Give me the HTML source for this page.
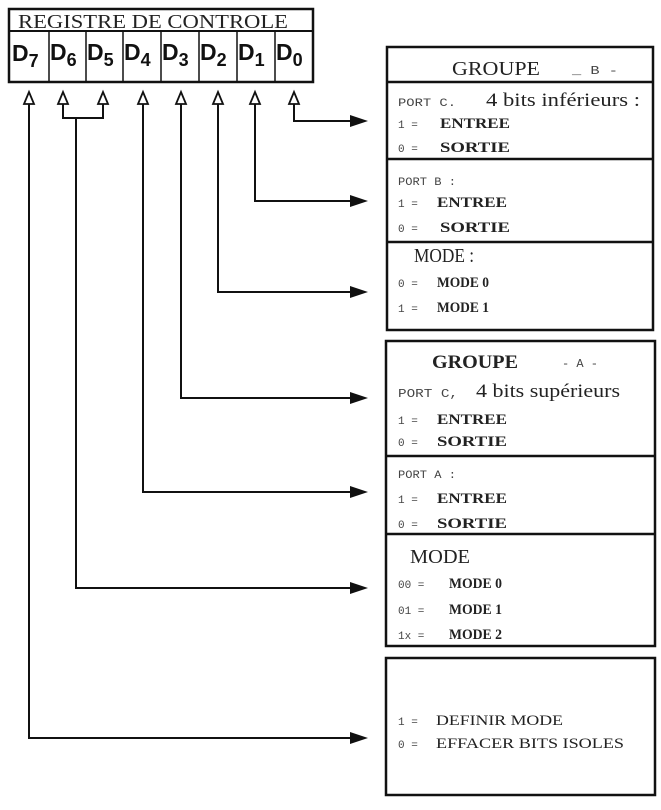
<!DOCTYPE html>
<html><head><meta charset="utf-8"><style>
html,body{margin:0;padding:0;background:#fff;}
svg{display:block;}
.s{font-family:"Liberation Serif",serif;font-weight:bold;fill:#222;}
.m{font-family:"Liberation Mono",monospace;fill:#444;}
</style></head><body>
<svg width="661" height="810" viewBox="0 0 661 810" xmlns="http://www.w3.org/2000/svg">
<rect width="661" height="810" fill="#fff"/>
<rect x="9" y="9" width="304" height="73" fill="none" stroke="#111" stroke-width="2.5"/>
<line x1="9" y1="31" x2="313" y2="31" stroke="#111" stroke-width="2"/>
<text x="18" y="28" font-family="Liberation Serif,serif" font-size="20" fill="#222" textLength="270" lengthAdjust="spacingAndGlyphs">REGISTRE DE CONTROLE</text>
<g stroke="#111" stroke-width="1.5">
<line x1="49" y1="31" x2="49" y2="82"/><line x1="86" y1="31" x2="86" y2="82"/><line x1="123" y1="31" x2="123" y2="82"/>
<line x1="161" y1="31" x2="161" y2="82"/><line x1="199" y1="31" x2="199" y2="82"/><line x1="237" y1="31" x2="237" y2="82"/><line x1="275" y1="31" x2="275" y2="82"/>
</g>
<g font-family="Liberation Sans,sans-serif" font-weight="bold" fill="#111">
<text x="12" y="61" font-size="23">D<tspan font-size="18" dy="6">7</tspan></text>
<text x="50" y="60" font-size="23">D<tspan font-size="18" dy="6">6</tspan></text>
<text x="87" y="60" font-size="23">D<tspan font-size="18" dy="6">5</tspan></text>
<text x="124" y="60" font-size="23">D<tspan font-size="18" dy="6">4</tspan></text>
<text x="162" y="60" font-size="23">D<tspan font-size="18" dy="6">3</tspan></text>
<text x="200" y="60" font-size="23">D<tspan font-size="18" dy="6">2</tspan></text>
<text x="238" y="60" font-size="23">D<tspan font-size="18" dy="6">1</tspan></text>
<text x="276" y="60" font-size="23">D<tspan font-size="18" dy="6">0</tspan></text>
</g>
<g fill="#fff" stroke="#111" stroke-width="1.8">
<polygon points="29,92 24,104 34,104"/><polygon points="63,92 58,104 68,104"/><polygon points="103,92 98,104 108,104"/>
<polygon points="143,92 138,104 148,104"/><polygon points="181,92 176,104 186,104"/><polygon points="218,92 213,104 223,104"/>
<polygon points="255,92 250,104 260,104"/><polygon points="294,92 289,104 299,104"/>
</g>
<g fill="none" stroke="#111" stroke-width="2">
<polyline points="294,104 294,121 355,121"/>
<polyline points="255,104 255,201 355,201"/>
<polyline points="218,104 218,292 355,292"/>
<polyline points="181,104 181,398 355,398"/>
<polyline points="143,104 143,492 355,492"/>
<polyline points="63,104 63,118 103,118 103,104"/>
<polyline points="76,118 76,588 355,588"/>
<polyline points="29,104 29,738 355,738"/>
</g>
<g fill="#111">
<polygon points="368,121 350,115 350,127"/><polygon points="368,201 350,195 350,207"/>
<polygon points="368,292 350,286 350,298"/><polygon points="368,398 350,392 350,404"/>
<polygon points="368,492 350,486 350,498"/><polygon points="368,588 350,582 350,594"/>
<polygon points="368,738 350,732 350,744"/>
</g>
<g fill="none" stroke="#111" stroke-width="2.5">
<rect x="387" y="47" width="266" height="283"/>
<line x1="387" y1="82" x2="653" y2="82"/><line x1="387" y1="159" x2="653" y2="159"/><line x1="387" y1="242" x2="653" y2="242"/>
<rect x="386" y="341" width="269" height="305"/>
<line x1="386" y1="456" x2="655" y2="456"/><line x1="386" y1="534" x2="655" y2="534"/>
<rect x="386" y="658" width="269" height="137"/>
</g>
<text x="452" y="75" font-family="Liberation Serif,serif" font-size="20" fill="#222" textLength="88" lengthAdjust="spacingAndGlyphs">GROUPE</text>
<text x="572" y="74" class="m" font-size="12" textLength="46" lengthAdjust="spacingAndGlyphs">_ B -</text>
<text x="398" y="106" class="m" font-size="11" textLength="58" lengthAdjust="spacingAndGlyphs">PORT C.</text>
<text x="486" y="106" font-family="Liberation Serif,serif" font-size="19" fill="#222" textLength="154" lengthAdjust="spacingAndGlyphs">4 bits inférieurs :</text>
<text x="398" y="128" class="m" font-size="11">1 =</text><text x="440" y="128" class="s" font-size="15" textLength="70" lengthAdjust="spacingAndGlyphs">ENTREE</text>
<text x="398" y="152" class="m" font-size="11">0 =</text><text x="440" y="152" class="s" font-size="15" textLength="70" lengthAdjust="spacingAndGlyphs">SORTIE</text>
<text x="398" y="185" class="m" font-size="11" textLength="58" lengthAdjust="spacingAndGlyphs">PORT B :</text>
<text x="398" y="207" class="m" font-size="11">1 =</text><text x="437" y="207" class="s" font-size="15" textLength="70" lengthAdjust="spacingAndGlyphs">ENTREE</text>
<text x="398" y="232" class="m" font-size="11">0 =</text><text x="440" y="232" class="s" font-size="15" textLength="70" lengthAdjust="spacingAndGlyphs">SORTIE</text>
<text x="414" y="262" font-family="Liberation Serif,serif" font-size="20" fill="#222" textLength="60" lengthAdjust="spacingAndGlyphs">MODE :</text>
<text x="398" y="287" class="m" font-size="11">0 =</text><text x="437" y="287" class="s" font-size="15" textLength="52" lengthAdjust="spacingAndGlyphs">MODE 0</text>
<text x="398" y="312" class="m" font-size="11">1 =</text><text x="437" y="312" class="s" font-size="15" textLength="52" lengthAdjust="spacingAndGlyphs">MODE 1</text>
<text x="432" y="368" font-family="Liberation Serif,serif" font-weight="bold" font-size="19" fill="#222" textLength="86" lengthAdjust="spacingAndGlyphs">GROUPE</text>
<text x="562" y="367" class="m" font-size="12">- A -</text>
<text x="398" y="397" class="m" font-size="12" textLength="60" lengthAdjust="spacingAndGlyphs">PORT C,</text>
<text x="476" y="397" font-family="Liberation Serif,serif" font-size="19" fill="#222" textLength="144" lengthAdjust="spacingAndGlyphs">4 bits supérieurs</text>
<text x="398" y="424" class="m" font-size="11">1 =</text><text x="437" y="424" class="s" font-size="15" textLength="70" lengthAdjust="spacingAndGlyphs">ENTREE</text>
<text x="398" y="446" class="m" font-size="11">0 =</text><text x="437" y="446" class="s" font-size="15" textLength="70" lengthAdjust="spacingAndGlyphs">SORTIE</text>
<text x="398" y="478" class="m" font-size="11" textLength="58" lengthAdjust="spacingAndGlyphs">PORT A :</text>
<text x="398" y="503" class="m" font-size="11">1 =</text><text x="437" y="503" class="s" font-size="15" textLength="70" lengthAdjust="spacingAndGlyphs">ENTREE</text>
<text x="398" y="528" class="m" font-size="11">0 =</text><text x="437" y="528" class="s" font-size="15" textLength="70" lengthAdjust="spacingAndGlyphs">SORTIE</text>
<text x="410" y="563" font-family="Liberation Serif,serif" font-size="20" fill="#222" textLength="60" lengthAdjust="spacingAndGlyphs">MODE</text>
<text x="398" y="588" class="m" font-size="11">00 =</text><text x="449" y="588" class="s" font-size="15" textLength="53" lengthAdjust="spacingAndGlyphs">MODE 0</text>
<text x="398" y="614" class="m" font-size="11">01 =</text><text x="449" y="614" class="s" font-size="15" textLength="53" lengthAdjust="spacingAndGlyphs">MODE 1</text>
<text x="398" y="639" class="m" font-size="11">1x =</text><text x="449" y="639" class="s" font-size="15" textLength="53" lengthAdjust="spacingAndGlyphs">MODE 2</text>
<text x="398" y="725" class="m" font-size="11">1 =</text><text x="436" y="725" font-family="Liberation Serif,serif" font-size="15" fill="#222" textLength="127" lengthAdjust="spacingAndGlyphs">DEFINIR MODE</text>
<text x="398" y="748" class="m" font-size="11">0 =</text><text x="436" y="748" font-family="Liberation Serif,serif" font-size="15" fill="#222" textLength="188" lengthAdjust="spacingAndGlyphs">EFFACER BITS ISOLES</text>
</svg>
</body></html>
